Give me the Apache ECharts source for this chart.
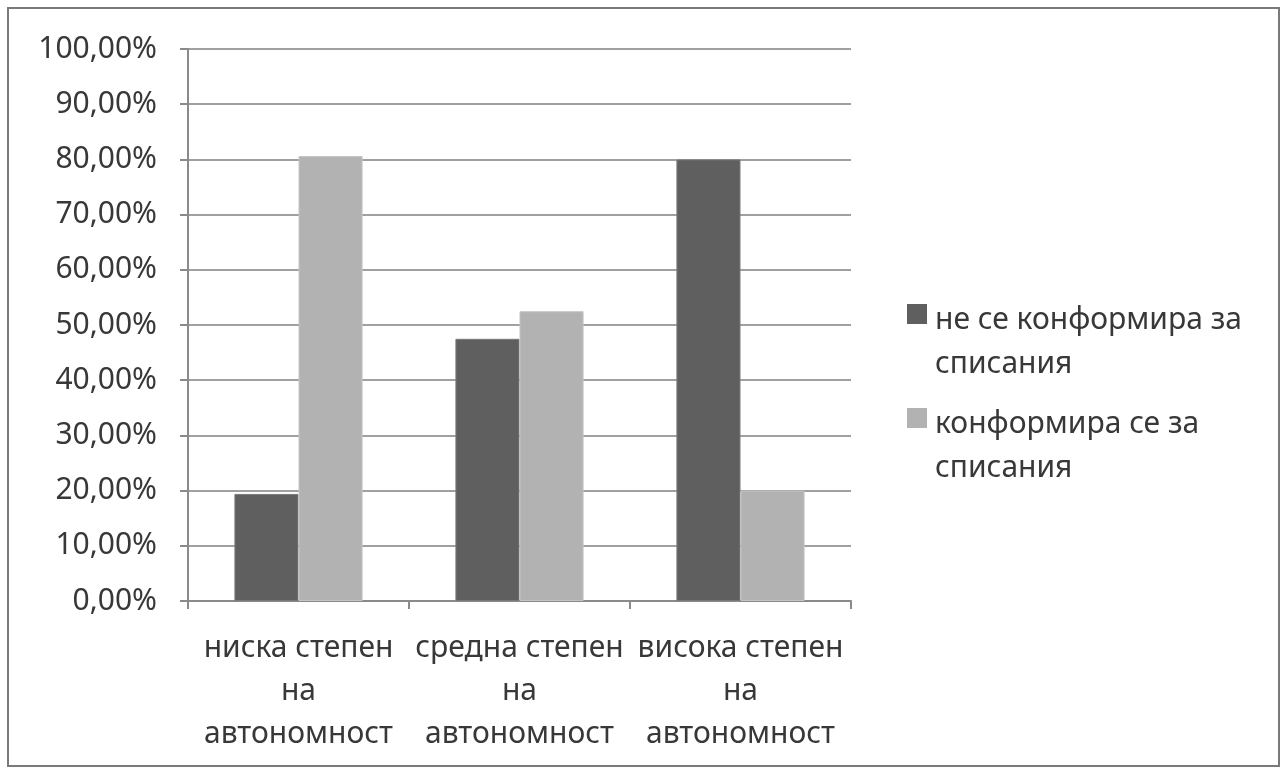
<!DOCTYPE html>
<html>
<head>
<meta charset="utf-8">
<script src="https://cdn.jsdelivr.net/npm/echarts@6/dist/echarts.min.js"></script>
<style>
html,body{margin:0;padding:0;background:#fff;}
#chart{width:1288px;height:772px;}
</style>
</head>
<body>
<div id="chart"></div>
<script>
var categories = ['ниска степен\nна\nавтономност', 'средна степен\nна\nавтономност', 'висока степен\nна\nавтономност'];
var seriesNames = ['не се конформира за\nсписания', 'конформира се за\nсписания'];
var notConforming = [19.4, 47.5, 80.0];
var conforming = [80.6, 52.5, 20.0];
var yTicks = {min: 0, max: 100, interval: 10};

var FONT = 'Noto Sans';
var chart = echarts.init(document.getElementById('chart'), null, {renderer: 'canvas'});
var legendIcon = 'path://M0,12L20,12L20,32L0,32Z M0,88L23,88';

chart.setOption({
  animation: false,
  backgroundColor: '#ffffff',
  textStyle: {fontFamily: FONT},
  graphic: [{
    type: 'rect', shape: {x: 8, y: 8, width: 1271, height: 758},
    style: {fill: 'none', stroke: '#7a7a7a', lineWidth: 2}, silent: true
  }],
  grid: {left: 188, right: 437, top: 49, bottom: 171, containLabel: false},
  legend: {
    orient: 'vertical', left: 902, top: 293,
    itemWidth: 23, itemHeight: 88, itemGap: 16,
    icon: legendIcon,
    itemStyle: {borderWidth: 0},
    textStyle: {fontSize: 30, lineHeight: 44, color: '#383838', fontFamily: FONT},
    data: seriesNames
  },
  xAxis: {
    type: 'category', data: categories,
    axisLine: {lineStyle: {color: '#8a8a8a', width: 2}},
    axisTick: {show: true, length: 8, alignWithLabel: false, lineStyle: {color: '#8a8a8a', width: 2}},
    axisLabel: {fontSize: 30, lineHeight: 43, margin: 26, color: '#383838', interval: 0, fontFamily: FONT},
    splitLine: {show: false}
  },
  yAxis: {
    type: 'value', min: yTicks.min, max: yTicks.max, interval: yTicks.interval,
    axisLine: {show: true, lineStyle: {color: '#8a8a8a', width: 2}},
    axisTick: {show: true, length: 8, lineStyle: {color: '#8a8a8a', width: 2}},
    axisLabel: {fontSize: 30, margin: 31, color: '#383838', fontFamily: FONT,
      formatter: function (v) { return v.toFixed(2).replace('.', ',') + '%'; }},
    splitLine: {show: true, lineStyle: {color: '#a0a0a0', width: 2}}
  },
  series: [
    {name: seriesNames[0], type: 'bar', data: notConforming, barGap: '0%', barCategoryGap: '42%',
     itemStyle: {color: '#5f5f5f', borderColor: '#7a7a7a', borderWidth: 1}},
    {name: seriesNames[1], type: 'bar', data: conforming, barGap: '0%', barCategoryGap: '42%',
     itemStyle: {color: '#b2b2b2', borderColor: '#c4c4c4', borderWidth: 1}}
  ]
});
</script>
</body>
</html>
